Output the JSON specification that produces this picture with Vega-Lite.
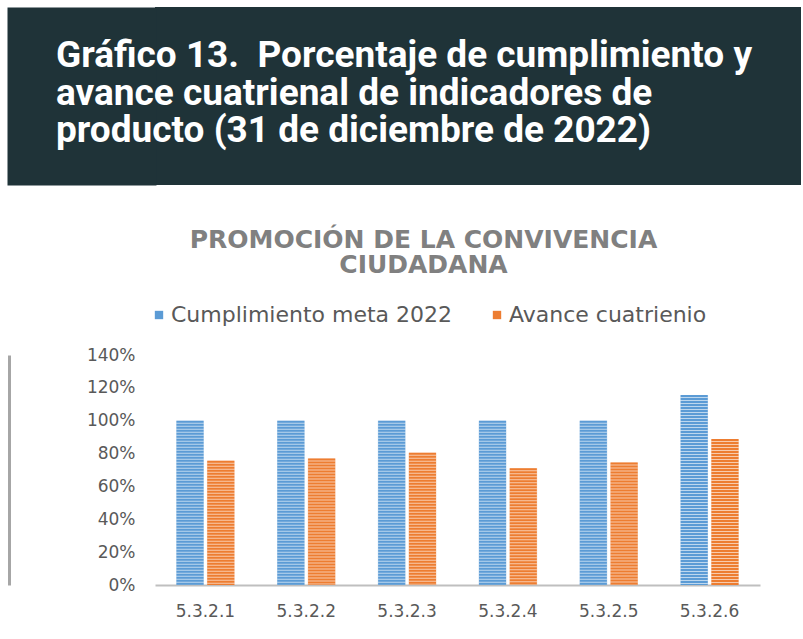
{
  "$schema": "https://vega.github.io/schema/vega-lite/v6.json",
  "background": "white",
  "padding": {"left": 9, "top": 7, "right": 0, "bottom": 0},
  "autosize": {"type": "pad"},
  "spacing": 43,
  "resolve": {"scale": {"color": "independent", "stroke": "independent"}, "legend": {"color": "independent", "stroke": "independent"}},
  "config": {"view": {"stroke": null}},
  "vconcat": [
    {
      "width": 646,
      "height": 178,
      "view": {"fill": "#1f3338", "stroke": null},
      "data": {"values": [
        {"text": "Gráfico 13.\u00a0 Porcentaje de cumplimiento y\navance cuatrienal de indicadores de\nproducto (31 de diciembre de 2022)"}
      ]},
      "mark": {"type": "text", "align": "left", "baseline": "middle", "lineBreak": "\n", "lineHeight": 37.5, "dx": -99, "dy": -40, "font": "Roboto", "fontSize": 37, "fontWeight": "bold", "color": "white"},
      "encoding": {
        "x": {"datum": 0, "type": "quantitative", "scale": {"domain": [0, 1]}, "axis": null},
        "y": {"datum": 0.5, "type": "quantitative", "scale": {"domain": [0, 1]},
          "axis": {"orient": "left", "offset": 73.5, "title": null, "labels": false, "ticks": false, "tickSize": 0, "grid": false, "domain": true, "domainColor": "#1f3338", "domainWidth": 149, "domainCap": "butt"}},
        "text": {"field": "text"}
      }
    },
    {
      "width": 605,
      "height": 230,
      "title": {
        "text": ["PROMOCIÓN DE LA CONVIVENCIA", "CIUDADANA"],
        "font": "DejaVu Sans", "fontSize": 25, "fontWeight": "bold", "color": "#808080",
        "lineHeight": 25, "anchor": "middle", "dx": -34, "offset": 26
      },
      "data": {"values": [
        {"indicador": "5.3.2.1", "serie": "Cumplimiento meta 2022", "valor": 1.0},
        {"indicador": "5.3.2.1", "serie": "Avance cuatrienio", "valor": 0.756},
        {"indicador": "5.3.2.2", "serie": "Cumplimiento meta 2022", "valor": 1.0},
        {"indicador": "5.3.2.2", "serie": "Avance cuatrienio", "valor": 0.77},
        {"indicador": "5.3.2.3", "serie": "Cumplimiento meta 2022", "valor": 1.0},
        {"indicador": "5.3.2.3", "serie": "Avance cuatrienio", "valor": 0.805},
        {"indicador": "5.3.2.4", "serie": "Cumplimiento meta 2022", "valor": 1.0},
        {"indicador": "5.3.2.4", "serie": "Avance cuatrienio", "valor": 0.71},
        {"indicador": "5.3.2.5", "serie": "Cumplimiento meta 2022", "valor": 1.0},
        {"indicador": "5.3.2.5", "serie": "Avance cuatrienio", "valor": 0.746},
        {"indicador": "5.3.2.6", "serie": "Cumplimiento meta 2022", "valor": 1.157},
        {"indicador": "5.3.2.6", "serie": "Avance cuatrienio", "valor": 0.888}
      ]},
      "encoding": {
        "x": {"field": "indicador", "type": "nominal", "scale": {"paddingInner": 0.42, "paddingOuter": 0.21},
          "axis": {"title": null, "labelAngle": 0, "ticks": false, "tickSize": 0, "labelPadding": 18, "labelFont": "DejaVu Sans", "labelFontSize": 17, "labelColor": "#595959", "domainColor": "#bfbfbf", "domainWidth": 2, "grid": false}},
        "xOffset": {"field": "serie", "type": "nominal", "sort": ["Cumplimiento meta 2022", "Avance cuatrienio"], "scale": {"paddingInner": 0.1, "paddingOuter": 0}}
      },
      "layer": [
        {
          "mark": {"type": "bar", "opacity": 0.4},
          "encoding": {
            "y": {"field": "valor", "type": "quantitative", "scale": {"domain": [0, 1.4]},
              "axis": {"title": null, "values": [0, 0.2, 0.4, 0.6, 0.8, 1.0, 1.2, 1.4], "format": ".0%", "grid": false, "domain": false, "ticks": false, "tickSize": 0, "labelPadding": 20, "labelFont": "DejaVu Sans", "labelFontSize": 17, "labelColor": "#595959"}},
            "color": {"field": "serie", "type": "nominal", "sort": ["Cumplimiento meta 2022", "Avance cuatrienio"],
              "scale": {"domain": ["Cumplimiento meta 2022", "Avance cuatrienio"], "range": ["#5b9bd5", "#ed7d31"]},
              "legend": {"title": null, "orient": "none", "direction": "horizontal", "legendX": -7, "legendY": -51, "symbolType": "square", "symbolSize": 70, "symbolOpacity": 1, "symbolStrokeWidth": 0, "labelFont": "DejaVu Sans", "labelFontSize": 22, "labelColor": "#595959", "labelOffset": 1, "labelLimit": 0, "columnPadding": 33}}
          }
        },
        {
          "mark": {"type": "rule", "strokeWidth": 27, "strokeDash": [2, 1], "strokeCap": "butt"},
          "encoding": {
            "y": {"field": "valor", "type": "quantitative", "axis": {"orient": "left", "offset": 146, "title": null, "labels": false, "ticks": false, "tickSize": 0, "grid": false, "domain": true, "domainColor": "#a6a6a6", "domainWidth": 3}},
            "y2": {"datum": 0},
            "stroke": {"field": "serie", "type": "nominal", "scale": {"domain": ["Cumplimiento meta 2022", "Avance cuatrienio"], "range": ["#5b9bd5", "#ed7d31"]}, "legend": null}
          }
        }
      ],
      "resolve": {"axis": {"y": "independent"}}
    }
  ]
}
